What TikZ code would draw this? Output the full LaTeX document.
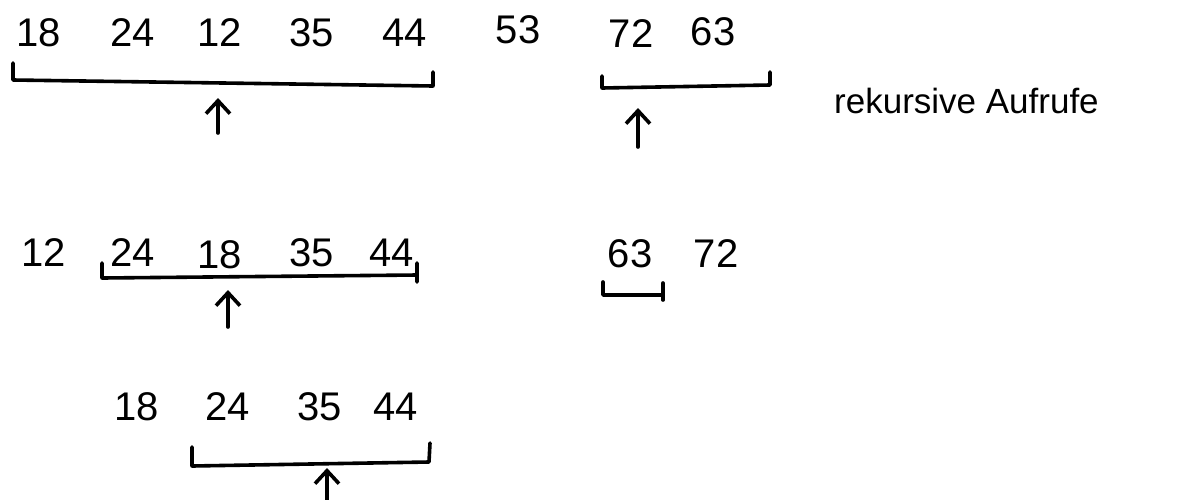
\documentclass[tikz,border=0pt]{standalone}
\usepackage{fontspec}
\setmainfont{Liberation Sans}
\usetikzlibrary{arrows.meta}
\tikzset{
  num/.style={inner sep=0pt, font=\fontsize{40}{40}\selectfont},
  lbl/.style={inner sep=0pt, anchor=base west, font=\fontsize{35}{35}\selectfont},
  brk/.style={line width=3.6pt, line cap=round, line join=round},
  ptr/.style={line width=3.6pt, line cap=round, -{Straight Barb[length=13pt,width=24pt,line width=3.6pt]}}
}
\begin{document}
\begin{tikzpicture}[x=1pt,y=-1pt]
\useasboundingbox (0,0) rectangle (1199,499);
% row 1
\node[num] (a1) at (39,33) {18};
\node[num] (a2) at (133,33) {24};
\node[num] (a3) at (220,33) {12};
\node[num] (a4) at (312,33) {35};
\node[num] (a5) at (405,33) {44};
\node[num] (a6) at (518,30) {53};
\node[num] (a7) at (631,34) {72};
\node[num] (a8) at (713,32) {63};
\draw[brk] (13,63) -- (13,80) -- (433,86) -- (433,72);
\draw[brk] (602,76) -- (602,88) -- (770,85) -- (770,72);
\coordinate (p1s) at (218,133); \coordinate (p1e) at (218,98);
\draw[ptr] (p1s) -- (p1e);
\coordinate (p2s) at (638,147); \coordinate (p2e) at (638,108);
\draw[ptr] (p2s) -- (p2e);
\node[lbl] (rk) at (834,113) {rekursive Aufrufe};
% row 2
\node[num] (b1) at (44,253) {12};
\node[num] (b2) at (133,253) {24};
\node[num] (b3) at (220,255) {18};
\node[num] (b4) at (312,253) {35};
\node[num] (b5) at (392,253) {44};
\node[num] (b6) at (630,254) {63};
\node[num] (b7) at (716,254) {72};
\draw[brk] (102,263) -- (102,278) -- (417,275) -- (417,282) -- (417,263);
\draw[brk] (603,282) -- (603,295) -- (663,295) -- (663,283) -- (663,300);
\coordinate (p3s) at (228,327); \coordinate (p3e) at (228,290);
\draw[ptr] (p3s) -- (p3e);
% row 3
\node[num] (c1) at (137,407) {18};
\node[num] (c2) at (228,407) {24};
\node[num] (c3) at (320,407) {35};
\node[num] (c4) at (396,407) {44};
\draw[brk] (192,447) -- (192,466) -- (429,462) -- (430,443);
\coordinate (p4s) at (327,505); \coordinate (p4e) at (327,468);
\draw[ptr] (p4s) -- (p4e);
\end{tikzpicture}
\end{document}
